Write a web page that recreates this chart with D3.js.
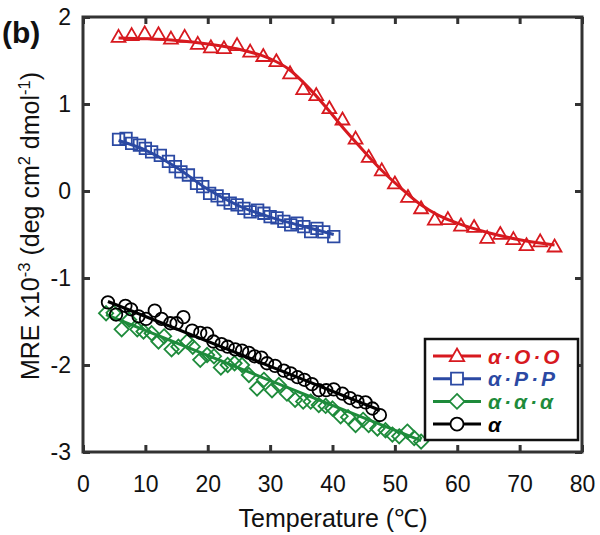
<!DOCTYPE html>
<html><head><meta charset="utf-8">
<script src="https://cdn.jsdelivr.net/npm/d3@7"></script>
<style>body{margin:0;background:#fff}svg{display:block}text{font-family:"Liberation Sans",Arial,sans-serif}</style>
</head><body>
<svg id="chart" width="600" height="535"></svg>
<script>
// ---- data ----
const xTicks = [0,10,20,30,40,50,60,70,80];
const yTicks = [-3,-2,-1,0,1,2];

const ooT = [5.7,7.8,9.9,12.1,14.1,16.3,18.4,20.5,22.6,24.7,26.8,28.9,31.0,33.2,35.3,37.4,39.5,41.6,43.7,45.8,47.9,50.0,52.1,54.2,56.4,58.5,60.6,62.7,64.8,66.9,69.0,71.1,73.3,75.6];
const ooV = [1.77,1.79,1.81,1.80,1.75,1.77,1.69,1.65,1.64,1.675,1.60,1.55,1.49,1.35,1.17,1.10,0.95,0.82,0.60,0.39,0.235,0.085,-0.07,-0.20,-0.33,-0.325,-0.40,-0.415,-0.54,-0.495,-0.555,-0.625,-0.58,-0.64];
const ooFitT = [5.7,10,15,20,25,30,33,36,39,42,45,48,51,54,57,60,65,70,75.6];
const ooFitV = [1.76,1.75,1.73,1.69,1.63,1.52,1.40,1.20,0.96,0.70,0.46,0.23,0.03,-0.15,-0.28,-0.37,-0.48,-0.56,-0.62];

const ppT = [5.7,6.9,7.8,9.05,10.0,11.0,12.4,13.7,14.8,15.7,16.9,18.2,19.2,20.3,21.5,22.5,23.6,24.7,25.8,26.8,28.0,29.0,30.0,31.1,32.2,33.3,34.3,35.4,36.5,37.5,38.6,40.2];
const ppV = [0.594,0.605,0.548,0.528,0.49,0.45,0.41,0.34,0.28,0.22,0.184,0.088,0.05,-0.027,-0.057,-0.10,-0.14,-0.16,-0.20,-0.24,-0.22,-0.256,-0.295,-0.31,-0.35,-0.39,-0.37,-0.41,-0.468,-0.43,-0.47,-0.525];
const ppFitT = [5.7,10,15,20,25,30,35,40.2];
const ppFitV = [0.58,0.47,0.27,0.02,-0.17,-0.30,-0.40,-0.50];

const aaaT = [3.7,4.9,6.2,7.4,8.7,9.7,11.0,12.1,13.0,14.2,15.3,16.7,17.6,18.8,19.9,21.0,22.1,23.2,24.3,25.5,26.6,27.9,29.0,30.3,31.4,32.7,34.0,35.3,36.5,37.8,38.9,40.0,41.3,42.5,43.7,44.9,45.8,47.2,48.5,49.6,50.7,52.0,53.1,54.2];
const aaaV = [-1.405,-1.40,-1.59,-1.48,-1.59,-1.615,-1.635,-1.73,-1.67,-1.82,-1.79,-1.73,-1.79,-1.94,-1.885,-1.90,-2.03,-2.0,-1.98,-2.0,-2.115,-2.27,-2.17,-2.29,-2.23,-2.33,-2.40,-2.42,-2.42,-2.46,-2.47,-2.50,-2.59,-2.60,-2.69,-2.63,-2.69,-2.73,-2.75,-2.80,-2.82,-2.765,-2.84,-2.88];
const aaaFitT = [3.7,29.0,54.2];
const aaaFitV = [-1.42,-2.15,-2.87];

const aT = [4.0,5.3,6.8,7.7,8.9,10.1,11.5,12.6,14.0,15.0,16.1,17.5,18.8,19.9,20.9,22.2,23.2,24.4,25.5,26.6,27.5,28.6,29.5,30.8,32.2,33.3,34.4,35.5,36.7,37.8,39.0,40.2,41.6,42.8,44.0,45.3,46.4,47.6];
const aV = [-1.28,-1.42,-1.32,-1.36,-1.44,-1.47,-1.375,-1.47,-1.52,-1.52,-1.45,-1.605,-1.63,-1.64,-1.73,-1.76,-1.79,-1.82,-1.835,-1.86,-1.90,-1.915,-1.98,-2.01,-2.065,-2.095,-2.14,-2.17,-2.22,-2.29,-2.29,-2.28,-2.33,-2.38,-2.42,-2.43,-2.50,-2.575];
const aFitT = [4.0,47.6];
const aFitV = [-1.27,-2.52];

const seriesNames = ["α·O·O","α·P·P","α·α·α","α"];
const seriesColors = ["#d7191f","#2b49a3","#1e8b3b","#000000"];
const seriesSymbols = ["triangle","square","diamond","circle"];

// ---- layout ----
const svg = d3.select("#chart");
const L = 83, R = 582, T = 17, B = 452;
const x = d3.scaleLinear().domain([0,80]).range([L,R]);
const y = d3.scaleLinear().domain([-3,2]).range([B,T]);
const frameColor = "#333";

function markerPath(kind, s){
  if(kind==="triangle") return `M0,${-s*0.62}L${s*0.6},${s*0.42}L${-s*0.6},${s*0.42}Z`;
  if(kind==="square") return `M${-s/2},${-s/2}h${s}v${s}h${-s}Z`;
  if(kind==="diamond") return `M0,${-s*0.62}L${s*0.62},0L0,${s*0.62}L${-s*0.62},0Z`;
  return d3.arc()({innerRadius:0,outerRadius:s*0.52,startAngle:0,endAngle:2*Math.PI});
}

const plot = svg.append("g");
const series = [
  {T:ooT,V:ooV,fT:ooFitT,fV:ooFitV,curve:d3.curveMonotoneX},
  {T:ppT,V:ppV,fT:ppFitT,fV:ppFitV,curve:d3.curveMonotoneX},
  {T:aaaT,V:aaaV,fT:aaaFitT,fV:aaaFitV,curve:d3.curveMonotoneX},
  {T:aT,V:aV,fT:aFitT,fV:aFitV,curve:d3.curveLinear}
];
[2,3,1,0].forEach(i=>{
  const s = series[i];
  const g = plot.append("g");
  const pts = s.T.map((t,j)=>[t,s.V[j]]);
  g.selectAll("path.m").data(pts).join("path")
    .attr("class","m")
    .attr("transform",d=>`translate(${x(d[0])},${y(d[1])})`)
    .attr("d",markerPath(seriesSymbols[i], i===3?12:11.5))
    .attr("fill","none").attr("stroke",seriesColors[i]).attr("stroke-width",1.8);
  const fit = s.fT.map((t,j)=>[t,s.fV[j]]);
  g.append("path").datum(fit)
    .attr("d",d3.line().x(d=>x(d[0])).y(d=>y(d[1])).curve(s.curve))
    .attr("fill","none").attr("stroke",seriesColors[i]).attr("stroke-width",3);
});

// ---- axes ----
const tickLen = 7;
const axB = svg.append("g").attr("transform",`translate(0,${B})`).call(d3.axisBottom(x).tickValues(xTicks).tickSizeInner(-tickLen).tickSizeOuter(0).tickPadding(24));
const axT = svg.append("g").attr("transform",`translate(0,${T})`).call(d3.axisTop(x).tickValues(xTicks).tickSizeInner(-tickLen).tickSizeOuter(0).tickFormat(""));
const axL = svg.append("g").attr("transform",`translate(${L},0)`).call(d3.axisLeft(y).tickValues(yTicks).tickSizeInner(-tickLen).tickSizeOuter(0).tickPadding(12).tickFormat(d3.format("d")));
const axR = svg.append("g").attr("transform",`translate(${R},0)`).call(d3.axisRight(y).tickValues(yTicks).tickSizeInner(-tickLen).tickSizeOuter(0).tickFormat(""));
[axB,axT,axL,axR].forEach(a=>{
  a.select(".domain").remove();
  a.selectAll(".tick line").attr("stroke",frameColor).attr("stroke-width",3);
  a.selectAll("text").attr("font-size",23).attr("fill","#111").attr("font-family","Liberation Sans, Arial, sans-serif");
});
axL.selectAll(".tick text").text(d=>d<0?"-"+Math.abs(d):d);
svg.append("rect").attr("x",L).attr("y",T).attr("width",R-L).attr("height",B-T)
  .attr("fill","none").attr("stroke",frameColor).attr("stroke-width",3);

// ---- legend ----
const lg = svg.append("g");
const lx0=425, ly0=339, lw=153, lh=101;
lg.append("rect").attr("x",lx0).attr("y",ly0).attr("width",lw).attr("height",lh)
  .attr("fill","#fff").attr("stroke","#111").attr("stroke-width",2.5);
seriesNames.forEach((n,i)=>{
  const yy = ly0+17+i*22.7;
  lg.append("line").attr("x1",lx0+8).attr("x2",lx0+56).attr("y1",yy).attr("y2",yy)
    .attr("stroke",seriesColors[i]).attr("stroke-width",3);
  lg.append("path").attr("transform",`translate(${lx0+32},${yy})`)
    .attr("d",markerPath(seriesSymbols[i], i===3?12.5:12)).attr("fill","#fff")
    .attr("stroke",seriesColors[i]).attr("stroke-width",1.8);
  lg.append("text").attr("x",lx0+63).attr("y",yy+7.5).text(n)
    .attr("fill",seriesColors[i]).attr("font-size",21).attr("font-weight","bold").attr("font-style","italic")
    .attr("letter-spacing",3);
});

// ---- titles ----
svg.append("text").attr("x",333).attr("y",527).attr("text-anchor","middle")
  .attr("font-size",25).attr("fill","#111").text("Temperature (℃)");
const yt = svg.append("text").attr("transform",`translate(39,226) rotate(-90)`)
  .attr("text-anchor","middle").attr("font-size",25).attr("fill","#111");
yt.append("tspan").text("MRE x10");
yt.append("tspan").attr("dy",-9).attr("font-size",16.5).text("-3");
yt.append("tspan").attr("dy",9).text(" (deg cm");
yt.append("tspan").attr("dy",-9).attr("font-size",16.5).text("2");
yt.append("tspan").attr("dy",9).text(" dmol");
yt.append("tspan").attr("dy",-9).attr("font-size",16.5).text("-1");
yt.append("tspan").attr("dy",9).text(")");
svg.append("text").attr("x",2).attr("y",43).attr("font-size",30).attr("font-weight","bold").attr("fill","#111").text("(b)");
</script>
</body></html>
